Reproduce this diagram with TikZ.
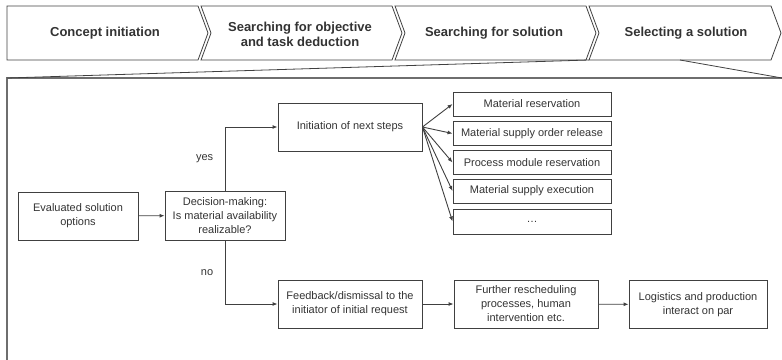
\documentclass[tikz,border=0pt]{standalone}
\usepackage{fontspec}
\setmainfont{Liberation Sans}
\usepackage{tikz}
\usetikzlibrary{arrows.meta,positioning,calc}
\definecolor{linegray}{HTML}{404040}
\definecolor{textgray}{HTML}{333333}
\definecolor{framegray}{HTML}{6E6E6E}

\begin{document}
\begin{tikzpicture}[x=1pt, y=-1pt,
  phase/.style={draw=linegray, line width=0.8pt, line join=miter},
  phasetxt/.style={font=\fontsize{13}{15}\selectfont\bfseries, text=textgray, align=center},
  box/.style={draw=linegray, line width=0.9pt, font=\fontsize{11}{14}\selectfont, text=textgray, align=center, inner sep=2pt, minimum width=144pt, minimum height=48pt},
  decbox/.style={box, minimum width=120pt, minimum height=49pt},
  stepbox/.style={box, minimum width=158pt, minimum height=24pt},
  arrow/.style={-{Latex[length=5pt,width=4pt]}, line width=0.9pt, draw=linegray},
  lbl/.style={font=\fontsize{11}{13}\selectfont, text=textgray},
]
\useasboundingbox (0,0) rectangle (782,359);

% ── Phase chevrons ──
\draw[phase] (7,6) -- (198,6) -- (208,33) -- (198,60) -- (7,60) -- cycle;
\draw[phase] (201,6) -- (392,6) -- (402,33) -- (392,60) -- (201,60) -- (211,33) -- cycle;
\draw[phase] (395,6) -- (586,6) -- (596,33) -- (586,60) -- (395,60) -- (405,33) -- cycle;
\draw[phase] (589,6) -- (771,6) -- (781,33) -- (771,60) -- (589,60) -- (599,33) -- cycle;

\node[phasetxt] (concept) at (105,33) {Concept initiation};
\node[phasetxt] (objective) at (300,34) {Searching for objective\\and task deduction};
\node[phasetxt] (search) at (494,33) {Searching for solution};
\node[phasetxt] (select) at (686,33) {Selecting a solution};

% Detail frame (zoom of the last phase)
\draw[framegray, line width=1.4pt] (785,78) -- (7,78) -- (7,362);
\draw[linegray, line width=0.8pt] (7,78) -- (589,60);
\draw[linegray, line width=0.8pt] (680,60) -- (782,78);

% ── Decision ──
\node[box, minimum width=120pt] (eval) at (78,216) {Evaluated solution\\options};
\node[decbox] (dec) at (225,215.5) {Decision-making:\\Is material availability\\realizable?};

\draw[arrow] (eval) -- (dec);

% ── yes branch ──
\node[box] (init) at (350,127) {Initiation of next steps};

\node[stepbox] (reserve) at (532,104) {Material reservation};
\node[stepbox] (order) at (532,133.5) {Material supply order release};
\node[stepbox] (module) at (532,162.5) {Process module reservation};
\node[stepbox] (supply) at (532,191) {Material supply execution};
\node[stepbox, minimum height=25pt] (more) at (532,221.5) {\dots};

\draw[arrow] (dec.north) |- node[lbl, pos=0.25, left=8pt]{yes} (init.west);
\draw[arrow] (init.east) -- (reserve.west);
\draw[arrow] (init.east) -- (order.west);
\draw[arrow] (init.east) -- (module.west);
\draw[arrow] (init.east) -- (supply.west);
\draw[arrow] (init.east) -- (more.west);

% ── no branch ──
\node[box] (feedback) at (350,304) {Feedback/dismissal to the\\initiator of initial request};
\node[box] (resched) at (526,304) {Further rescheduling\\processes, human\\intervention etc.};
\node[box, minimum width=138pt] (logistics) at (698,304.5) {Logistics and production\\interact on par};

\draw[arrow] (dec.south) |- node[lbl, pos=0.25, left=8pt]{no} (feedback.west);
\draw[arrow] (feedback) -- (resched);
\draw[arrow] (resched) -- (logistics);

\end{tikzpicture}
\end{document}
